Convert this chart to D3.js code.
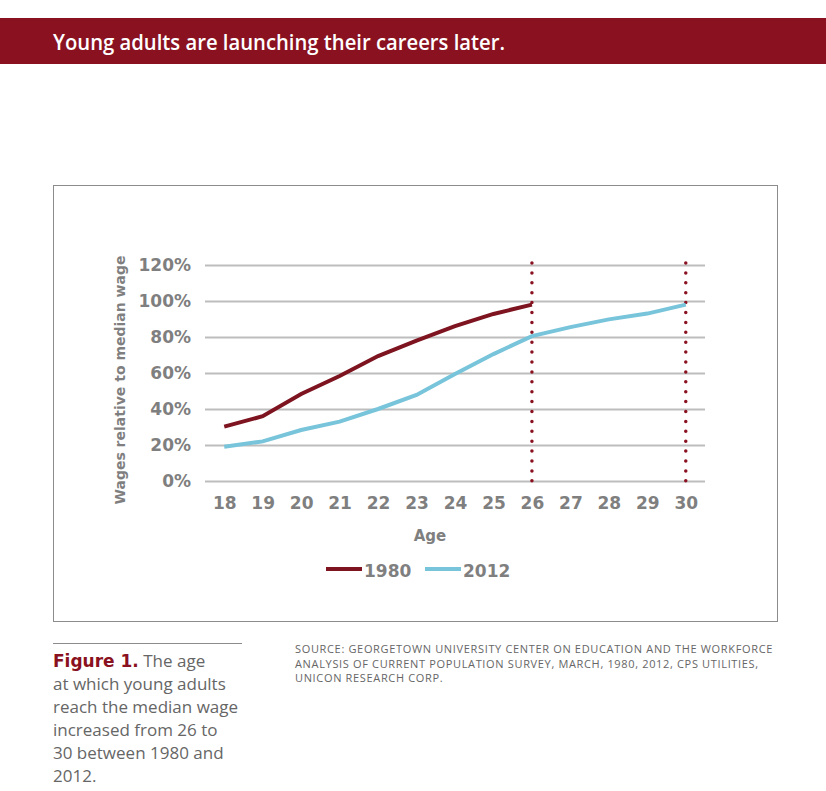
<!DOCTYPE html>
<html><head><meta charset="utf-8">
<script src="https://cdn.jsdelivr.net/npm/d3@7"></script>
<style>body{margin:0;background:#fff}svg{display:block}</style>
</head><body>
<script>
const ages = [18,19,20,21,22,23,24,25,26,27,28,29,30];
const wages1980 = [30.2,36,48.3,58.3,69.4,78,86,92.8,98];
const wages2012 = [19,22,28.3,33,40,47.8,59.4,70.5,80.5,85.5,89.8,93,98];
const yTicks = [0,20,40,60,80,100,120];
const markerAges = [26,30];
const seriesNames = ["1980","2012"];
const colors = {"1980":"#7d1420","2012":"#78c4da"};

const W=826,H=791;
const svg=d3.select("body").append("svg").attr("width",W).attr("height",H);
const gray="#7f7f7f";
const bold="'DejaVu Sans', sans-serif";

// header
svg.append("rect").attr("x",0).attr("y",18).attr("width",W).attr("height",46).attr("fill","#8a1120");
svg.append("text").attr("x",53).attr("y",50).attr("fill","#fff")
  .style("font-family","'Open Sans', sans-serif").style("font-size","22px").style("font-weight","600")
  .attr("textLength",452).attr("lengthAdjust","spacingAndGlyphs")
  .text("Young adults are launching their careers later.");

// chart box
svg.append("rect").attr("x",53.5).attr("y",185.5).attr("width",724).attr("height",436)
  .attr("fill","none").attr("stroke","#8c8c8c").attr("stroke-width",1);

const x=d3.scalePoint().domain(ages).range([205,705]).padding(0.5);
const y=d3.scaleLinear().domain([0,120]).range([481,265]);

// grid
const yAxis=d3.axisLeft(y).tickValues(yTicks).tickSize(-500).tickFormat(d=>d+"%").tickPadding(14);
const gy=svg.append("g").attr("transform","translate(205,0)").call(yAxis);
gy.select(".domain").remove();
gy.selectAll(".tick line").attr("stroke","#bdbdbd").attr("stroke-width",2);
gy.selectAll(".tick text").attr("fill",gray).style("font-family",bold).style("font-weight","bold").style("font-size","17px");

const xAxis=d3.axisBottom(x).tickSize(0).tickPadding(16);
const gx=svg.append("g").attr("transform","translate(0,481)").call(xAxis);
gx.select(".domain").remove();
gx.selectAll(".tick text").attr("fill",gray).style("font-family",bold).style("font-weight","bold").style("font-size","17px");

// axis titles
svg.append("text").attr("transform","translate(125,380) rotate(-90)").attr("text-anchor","middle")
  .attr("fill",gray).style("font-family",bold).style("font-weight","bold").style("font-size","14px")
  .attr("textLength",249).attr("lengthAdjust","spacingAndGlyphs")
  .text("Wages relative to median wage");
svg.append("text").attr("x",430).attr("y",541).attr("text-anchor","middle")
  .attr("fill",gray).style("font-family",bold).style("font-weight","bold").style("font-size","15px")
  .text("Age");

// dotted verticals
svg.selectAll("line.marker").data(markerAges).join("line").attr("class","marker")
  .attr("x1",d=>x(d)).attr("x2",d=>x(d)).attr("y1",y(120)-2).attr("y2",y(0))
  .attr("stroke","#8a1120").attr("stroke-width",3.5).attr("stroke-linecap","round")
  .attr("stroke-dasharray","0 9.9");

// lines
const line=d3.line().x((d,i)=>x(ages[i])).y(d=>y(d));
svg.append("path").attr("d",line(wages2012)).attr("fill","none").attr("stroke",colors["2012"]).attr("stroke-width",4);
svg.append("path").attr("d",line(wages1980)).attr("fill","none").attr("stroke",colors["1980"]).attr("stroke-width",4);

// legend
const leg=[{n:seriesNames[0],x:326},{n:seriesNames[1],x:425}];
leg.forEach(l=>{
  svg.append("line").attr("x1",l.x).attr("x2",l.x+36).attr("y1",569).attr("y2",569)
    .attr("stroke",colors[l.n]).attr("stroke-width",4);
  svg.append("text").attr("x",l.x+38).attr("y",577).attr("fill",gray)
    .style("font-family",bold).style("font-weight","bold").style("font-size","17px").text(l.n);
});

// caption
svg.append("line").attr("x1",53).attr("x2",242).attr("y1",643.5).attr("y2",643.5).attr("stroke","#8c8c8c").attr("stroke-width",1);
const capLines=["The age","at which young adults","reach the median wage","increased from 26 to","30 between 1980 and","2012."];
const cap=svg.append("g").style("font-family","'Open Sans', sans-serif").style("font-size","17px").attr("fill","#666");
const t0=cap.append("text").attr("x",53).attr("y",667);
t0.append("tspan").attr("fill","#8a1120").style("font-weight","bold").style("font-family",bold).text("Figure 1.");
t0.append("tspan").text(" "+capLines[0]);
capLines.slice(1).forEach((s,i)=>cap.append("text").attr("x",53).attr("y",690+i*23).text(s));

const src=["SOURCE: GEORGETOWN UNIVERSITY CENTER ON EDUCATION AND THE WORKFORCE","ANALYSIS OF CURRENT POPULATION SURVEY, MARCH, 1980, 2012, CPS UTILITIES,","UNICON RESEARCH CORP."];
const srcG=svg.append("g").attr("fill","#666").style("font-family","'Open Sans', sans-serif").style("font-size","11px");
const srcT=src.map((s,i)=>srcG.append("text").attr("x",295).attr("y",653+i*14.5).text(s));
const w0=srcT[0].node().getComputedTextLength();
const ls=(478-w0)/src[0].length;
srcG.style("letter-spacing",ls+"px");
</script>
</body></html>
